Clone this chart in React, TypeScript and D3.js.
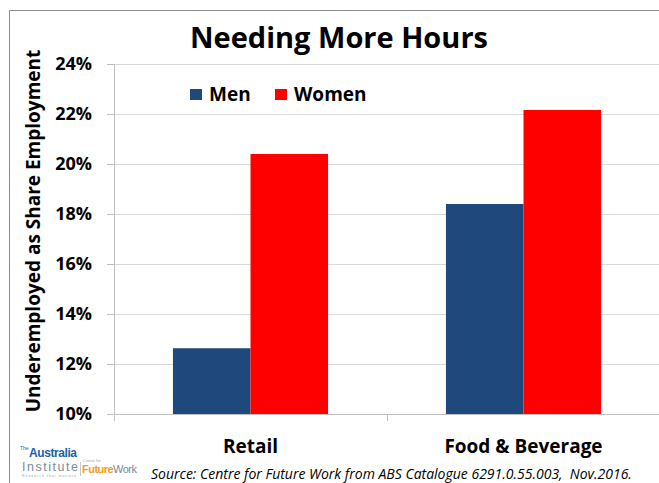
import React, { useEffect, useRef } from 'react'
import * as d3 from 'd3'

// chart data
const categories = ['Retail', 'Food & Beverage']
const seriesNames = ['Men', 'Women']
const menValues = [12.63, 18.4]
const womenValues = [20.4, 22.16]
const yTicks = [10, 12, 14, 16, 18, 20, 22, 24]
const seriesColors = ['#1F497D', '#FF0000']

const title = 'Needing More Hours'
const yTitle = 'Underemployed as Share Employment'
const source = 'Source: Centre for Future Work from ABS Catalogue 6291.0.55.003,  Nov.2016.'

const W = 659
const H = 483
const font = '"Open Sans", "Noto Sans", sans-serif'
const gridColor = '#d9d9d9'
const axisColor = '#bfbfbf'

const App = () => {
	const ref = useRef<SVGSVGElement>(null)

	useEffect(() => {
		if (!ref.current) return
		const svg = d3.select(ref.current)
		svg.selectAll('*').remove()

		const plot = { left: 114, right: 660, top: 64, bottom: 414 }

		const y = d3.scaleLinear().domain([10, 24]).range([plot.bottom, plot.top])
		const x = d3.scaleBand().domain(categories).range([plot.left, plot.right])
		const xs = d3.scaleBand().domain(seriesNames).range([0, x.bandwidth()]).paddingOuter(0.76)

		// frame of the chart area (cut off on the right and bottom)
		svg.append('path')
			.attr('d', `M9.5,${H} V10.5 H${W}`)
			.attr('fill', 'none')
			.attr('stroke', '#8a8a8a')

		// gridlines
		const grid = svg.append('g')
			.attr('transform', `translate(${plot.left},0)`)
			.call(d3.axisLeft(y).tickValues(yTicks).tickSize(-(plot.right - plot.left)).tickFormat(() => ''))
		grid.select('.domain').remove()
		grid.selectAll('line').attr('stroke', gridColor).attr('shape-rendering', 'crispEdges')

		// y axis
		const yAxis = svg.append('g')
			.attr('transform', `translate(${plot.left},0)`)
			.call(d3.axisLeft(y).tickValues(yTicks).tickSize(7).tickPadding(15).tickFormat(d => `${d}%`))
		yAxis.select('.domain').attr('stroke', axisColor).attr('d', `M0,${plot.top}V${plot.bottom}`).attr('shape-rendering', 'crispEdges')
		yAxis.selectAll('line').attr('stroke', axisColor).attr('shape-rendering', 'crispEdges')
		yAxis.selectAll('text')
			.attr('font-family', font)
			.attr('font-weight', 700)
			.attr('font-size', 18)
			.attr('fill', '#000')

		// bars
		const values = [menValues, womenValues]
		const bars = svg.append('g')
		seriesNames.forEach((s, si) => {
			bars.selectAll(`rect.s${si}`)
				.data(categories)
				.join('rect')
				.attr('class', `s${si}`)
				.attr('x', c => (x(c) as number) + (xs(s) as number))
				.attr('width', xs.bandwidth())
				.attr('y', (_, i) => y(values[si][i]))
				.attr('height', (_, i) => y(10) - y(values[si][i]))
				.attr('fill', seriesColors[si])
		})

		// x axis
		const xAxis = svg.append('g')
			.attr('transform', `translate(0,${plot.bottom})`)
			.call(d3.axisBottom(x).tickSize(0).tickPadding(26))
		xAxis.select('.domain').attr('stroke', axisColor).attr('shape-rendering', 'crispEdges')
		xAxis.selectAll('text')
			.attr('font-family', font)
			.attr('font-weight', 700)
			.attr('font-size', 19)
			.attr('fill', '#000')
		// tick marks at band edges
		const edges = [...categories.map(c => x(c) as number), plot.right]
		xAxis.selectAll('line.edge')
			.data(edges)
			.join('line')
			.attr('class', 'edge')
			.attr('x1', d => d).attr('x2', d => d)
			.attr('y1', 0).attr('y2', 7)
			.attr('stroke', axisColor)
			.attr('shape-rendering', 'crispEdges')

		// title
		svg.append('text')
			.attr('x', 339).attr('y', 48)
			.attr('text-anchor', 'middle')
			.attr('font-family', font)
			.attr('font-weight', 700)
			.attr('font-size', 29)
			.text(title)

		// y title
		svg.append('text')
			.attr('transform', 'translate(40,231) rotate(-90)')
			.attr('text-anchor', 'middle')
			.attr('font-family', font)
			.attr('font-weight', 700)
			.attr('font-size', 19)
			.text(yTitle)

		// legend
		const legendX = [190, 275]
		const legend = svg.append('g')
		seriesNames.forEach((s, i) => {
			legend.append('rect')
				.attr('x', legendX[i]).attr('y', 89)
				.attr('width', 12).attr('height', 11)
				.attr('fill', seriesColors[i])
			legend.append('text')
				.attr('x', legendX[i] + 19).attr('y', 101)
				.attr('font-family', font)
				.attr('font-weight', 700)
				.attr('font-size', 19)
				.text(s)
		})

		// source note
		svg.append('text')
			.attr('x', 151).attr('y', 479)
			.attr('font-family', font)
			.attr('font-style', 'italic')
			.attr('font-size', 14)
			.attr('xml:space', 'preserve')
			.style('white-space', 'pre')
			.text(source)

		// logo
		const logo = svg.append('g').attr('font-family', '"Liberation Sans Narrow", "Liberation Sans", sans-serif')
		logo.append('text').attr('x', 20).attr('y', 450).attr('font-size', 5).attr('fill', '#1b5fa8').text('The')
		logo.append('text').attr('x', 29).attr('y', 457).attr('font-size', 12).attr('font-weight', 700)
			.attr('fill', '#1b5fa8').attr('textLength', 48).text('Australia')
		logo.append('text').attr('x', 22).attr('y', 471).attr('font-size', 12.5)
			.attr('fill', '#7d8a98').attr('textLength', 56).text('Institute')
		logo.append('text').attr('x', 22).attr('y', 477).attr('font-size', 3.5)
			.attr('fill', '#9aa3ad').attr('textLength', 56).text('Research that matters.')
		logo.append('line').attr('x1', 80.5).attr('x2', 80.5).attr('y1', 462).attr('y2', 476)
			.attr('stroke', '#c8c8c8')
		logo.append('text').attr('x', 83).attr('y', 462).attr('font-size', 4).attr('fill', '#9aa3ad').text('Centre for')
		const fw = logo.append('text').attr('x', 82).attr('y', 473).attr('font-size', 11).attr('textLength', 55)
		fw.append('tspan').attr('font-weight', 700).attr('fill', '#f39a1e').text('Future')
		fw.append('tspan').attr('fill', '#7d8a98').text('Work')
	}, [])

	return (
		<svg ref={ref} width={W} height={H} style={{ position: 'absolute', left: 0, top: 0, background: '#fff' }} />
	)
}

export default App
